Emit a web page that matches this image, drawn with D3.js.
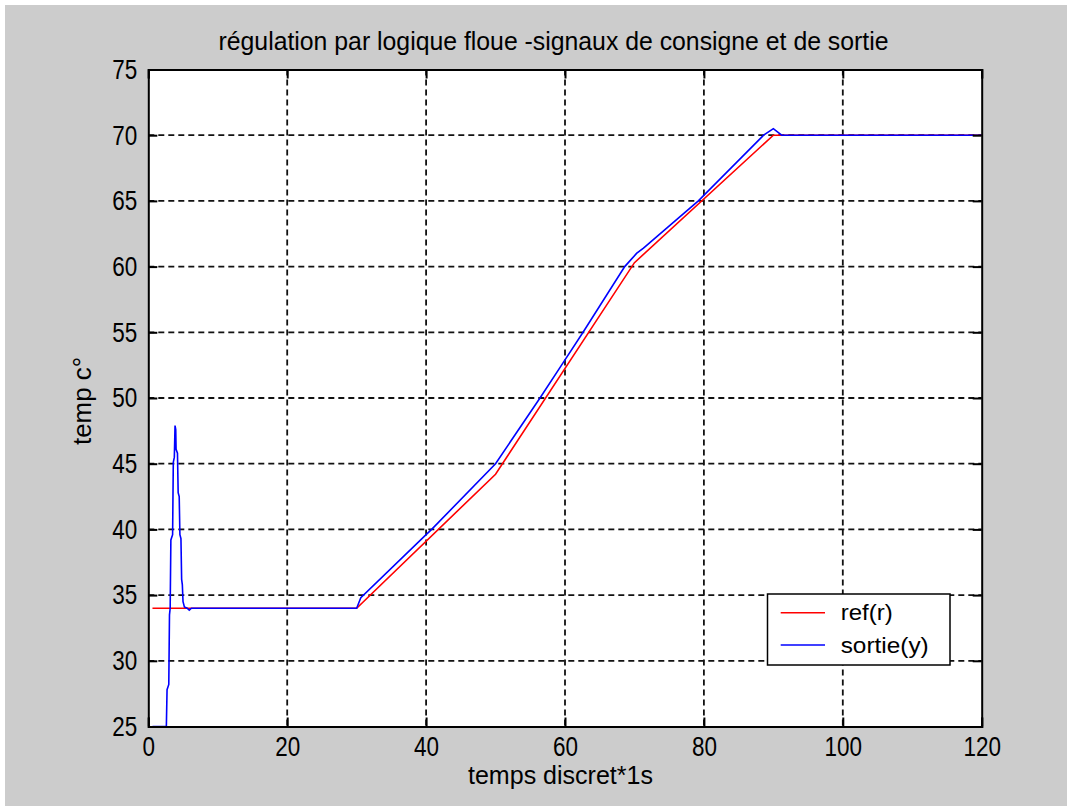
<!DOCTYPE html>
<html>
<head>
<meta charset="utf-8">
<script src="https://cdn.jsdelivr.net/npm/d3@7"></script>
<style>
  body { margin: 0; background: #fff; }
  svg { display: block; }
  text { font-family: "Liberation Sans Narrow", "Arial Narrow", "Liberation Sans", sans-serif; fill: #000; }
</style>
</head>
<body>
<div id="chart"></div>
<script>
'use strict';

// reference signal r (setpoint)
const refT = [0.6, 30, 50, 70, 90, 120];
const refV = [34, 34, 44.2, 60.3, 70, 70];

// plant output y
const sortieT = [0.6, 2.6, 2.7, 2.95, 3.05, 3.15, 3.25, 3.5, 3.6, 3.75, 3.85, 3.95, 4.0, 4.2, 4.3, 4.45,
  4.55, 4.7, 4.8, 4.9, 5.0, 5.2, 5.6, 5.9, 6.2, 30, 30.6, 40, 40.8, 50, 56.4, 60, 62.6, 68.6, 70.3,
  71.3, 79.2, 88.6, 90, 91.2, 120];
const sortieV = [25, 25, 27.8, 28.2, 33.5, 34, 39.2, 39.6, 45.1, 45.5, 47.9, 47.6, 46.1, 45.8, 42.8, 42.5,
  39.6, 39.3, 36.2, 35.8, 34.5, 34.1, 34.0, 33.85, 34.0, 34, 34.8, 39.6, 40, 45.0, 50, 52.9, 55, 60, 61.0,
  61.4, 65, 70, 70.5, 70, 70];

const xTicks = [0, 20, 40, 60, 80, 100, 120];
const yTicks = [25, 30, 35, 40, 45, 50, 55, 60, 65, 70, 75];

const width = 1072;
const height = 809;
const plot = { left: 148.3, right: 981.7, top: 69.5, bottom: 726.5 };

const svg = d3.select("#chart").append("svg")
    .attr("width", width)
    .attr("height", height);

// figure background
svg.append("rect")
    .attr("x", 5).attr("y", 5)
    .attr("width", 1062).attr("height", 801)
    .attr("fill", "#cccccc");

svg.append("rect")
    .attr("x", plot.left).attr("y", plot.top)
    .attr("width", plot.right - plot.left).attr("height", plot.bottom - plot.top)
    .attr("fill", "#fff");

const x = d3.scaleLinear().domain([0, 120]).range([plot.left, plot.right]);
const y = d3.scaleLinear().domain([25, 75]).range([plot.bottom, plot.top]);

// grid
const grid = svg.append("g")
    .attr("stroke", "#111")
    .attr("stroke-width", 1.8)
    .attr("stroke-dasharray", "6,4");
grid.selectAll(".gx").data(xTicks.slice(1, -1)).join("line")
    .attr("x1", d => x(d)).attr("x2", d => x(d))
    .attr("y1", plot.top).attr("y2", plot.bottom);
grid.selectAll(".gy").data(yTicks.slice(1, -1)).join("line")
    .attr("y1", d => y(d)).attr("y2", d => y(d))
    .attr("x1", plot.left).attr("x2", plot.right);

// data lines
svg.append("clipPath").attr("id", "clip")
    .append("rect")
    .attr("x", plot.left).attr("y", plot.top - 1)
    .attr("width", plot.right - plot.left).attr("height", plot.bottom - plot.top + 2);

const line = d3.line()
    .x(d => x(d[0]))
    .y(d => y(d[1]));

const lines = svg.append("g").attr("clip-path", "url(#clip)");
lines.append("path")
    .attr("d", line(d3.zip(refT, refV)))
    .attr("fill", "none")
    .attr("stroke", "#ff0000")
    .attr("stroke-width", 1.6);
lines.append("path")
    .attr("d", line(d3.zip(sortieT, sortieV)))
    .attr("fill", "none")
    .attr("stroke", "#0000ff")
    .attr("stroke-width", 1.6);

// axes: inward ticks on all four sides, labels bottom/left
const tickLen = 9;
const axBottom = d3.axisBottom(x).tickValues(xTicks).tickSize(-tickLen).tickPadding(10);
const axTop = d3.axisTop(x).tickValues(xTicks).tickSize(-tickLen).tickFormat("");
const axLeft = d3.axisLeft(y).tickValues(yTicks).tickSize(-tickLen).tickPadding(11);
const axRight = d3.axisRight(y).tickValues(yTicks).tickSize(-tickLen).tickFormat("");

function styleAxis(g) {
    g.select(".domain").attr("stroke", "#000").attr("stroke-width", 2);
    g.selectAll(".tick line").attr("stroke", "#000").attr("stroke-width", 2);
    g.selectAll(".tick text")
        .attr("font-size", 27.5)
        .attr("font-family", null)
        .attr("fill", "#000")
        .attr("textLength", function () { return this.textContent.length * 12.5; })
        .attr("lengthAdjust", "spacingAndGlyphs");
}

svg.append("g").attr("transform", `translate(0,${plot.bottom})`).call(axBottom).call(styleAxis)
    .selectAll(".tick text").attr("dy", "0.71em");
svg.append("g").attr("transform", `translate(0,${plot.top})`).call(axTop).call(styleAxis);
svg.append("g").attr("transform", `translate(${plot.left},0)`).call(axLeft).call(styleAxis);
svg.append("g").attr("transform", `translate(${plot.right},0)`).call(axRight).call(styleAxis);

// title and axis labels
svg.append("text")
    .attr("x", 553.5).attr("y", 50)
    .attr("text-anchor", "middle")
    .attr("font-size", 26)
    .attr("textLength", 670)
    .attr("lengthAdjust", "spacingAndGlyphs")
    .text("régulation par logique floue -signaux de consigne et de sortie");

svg.append("text")
    .attr("x", 560.5).attr("y", 784)
    .attr("text-anchor", "middle")
    .attr("font-size", 26)
    .attr("textLength", 185)
    .attr("lengthAdjust", "spacingAndGlyphs")
    .text("temps discret*1s");

svg.append("text")
    .attr("transform", "translate(91,401) rotate(-90)")
    .attr("text-anchor", "middle")
    .attr("font-size", 26)
    .attr("textLength", 88)
    .attr("lengthAdjust", "spacingAndGlyphs")
    .text("temp c°");

// legend
const legend = svg.append("g");
legend.append("rect")
    .attr("x", 767.5).attr("y", 594)
    .attr("width", 182.5).attr("height", 71)
    .attr("fill", "#fff")
    .attr("stroke", "#000")
    .attr("stroke-width", 1.5);
const legendItems = [
    { name: "ref(r)", color: "#ff0000" },
    { name: "sortie(y)", color: "#0000ff" }
];
legendItems.forEach((d, i) => {
    const ly = 612.7 + i * 32.3;
    legend.append("line")
        .attr("x1", 780.7).attr("x2", 825)
        .attr("y1", ly).attr("y2", ly)
        .attr("stroke", d.color)
        .attr("stroke-width", 1.6);
    legend.append("text")
        .attr("x", 840.7).attr("y", ly + 7.5)
        .attr("font-size", 22)
        .attr("textLength", i === 0 ? 52 : 88)
        .attr("lengthAdjust", "spacingAndGlyphs")
        .text(d.name);
});
</script>
</body>
</html>
